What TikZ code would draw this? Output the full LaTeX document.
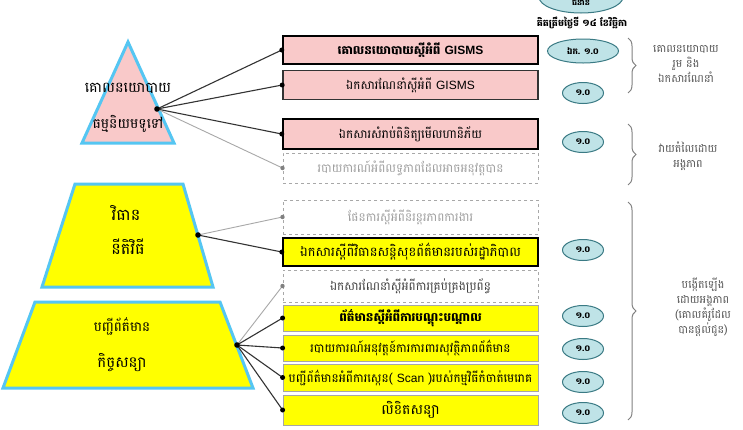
\documentclass[tikz,border=0pt]{standalone}
\usepackage{fontspec}
\newfontfamily\kh[Script=Khmer]{Battambang}
\newfontfamily\lat{Liberation Sans}
\usetikzlibrary{decorations.pathreplacing,shapes.geometric}
\definecolor{pinkfill}{HTML}{F9C9C9}
\definecolor{yel}{HTML}{FFFF00}
\definecolor{skyb}{HTML}{55C6F2}
\definecolor{ellfill}{HTML}{BFE3E7}
\definecolor{elldraw}{HTML}{3A7A84}
\definecolor{lgray}{HTML}{A8A8A8}
\definecolor{dgray}{HTML}{555555}
\begin{document}
\begin{tikzpicture}[x=1pt,y=-1pt,font=\kh\fontsize{12}{14}\selectfont,
  box/.style={minimum width=255pt,inner sep=0pt,anchor=center},
  pinkbox/.style={box,draw=black,fill=pinkfill,line width=2.4pt},
  pinkthin/.style={box,draw=black!80,fill=pinkfill,line width=1.6pt},
  dashbox/.style={box,draw=lgray,dashed,line width=1pt,text=gray!75,fill=white},
  yelbold/.style={box,draw=black,fill=yel,line width=2.4pt},
  yelbox/.style={box,draw=gray!70,fill=yel,line width=0.8pt},
  pyr/.style={draw=skyb,line width=3pt,line join=miter},
  darkline/.style={draw=black!80,line width=1.1pt},
  lightline/.style={draw=lgray,line width=0.9pt},
  ver/.style={ellipse,draw=elldraw,fill=ellfill,line width=1pt,inner sep=0pt,
    minimum width=41pt,minimum height=21pt,font=\kh\bfseries\fontsize{8.5}{10}\selectfont},
  brc/.style={decorate,decoration={brace,amplitude=8pt},draw=gray,line width=1pt},
  side/.style={text=dgray,align=center,font=\kh\fontsize{11}{15}\selectfont},
  pyrtext/.style={font=\kh\fontsize{#1}{16}\selectfont}]
\useasboundingbox (0,0) rectangle (743,429);
\clip (0,0) rectangle (743,429);
\fill[white] (0,0) rectangle (743,429);
% pyramid
\draw[pyr,fill=pinkfill] (128,42) -- (174,143) -- (82,143) -- cycle;
\draw[pyr,fill=yel] (75,184) -- (183,184) -- (213,287) -- (42,287) -- cycle;
\draw[pyr,fill=yel] (35,302) -- (220,302) -- (253,388) -- (3,388) -- cycle;
\node[pyrtext=14.5] (t1a) at (128,88) {គោលនយោបាយ};
\node[pyrtext=14] (t1b) at (128,124) {ធម្មនិយមទូទៅ};
\node[pyrtext=16] (t2a) at (126,213) {វិធាន};
\node[pyrtext=16] (t2b) at (128,247) {នីតិវិធី};
\node[pyrtext=13.5] (t3a) at (122,326) {បញ្ជីព័ត៌មាន};
\node[pyrtext=15] (t3b) at (122,363) {កិច្ចសន្យា};
\coordinate (p1) at (157,109);
\coordinate (p2) at (198,235);
\coordinate (p3) at (237,345);
% boxes
\node[pinkbox,minimum height=28pt] (b1) at (410.5,50) {\bfseries គោលនយោបាយស្តីអំពី {\lat GISMS}};
\node[pinkthin,minimum height=29pt] (b2) at (410.5,85) {ឯកសារណែនាំស្តីអំពី {\lat GISMS}};
\node[pinkbox,minimum height=30pt] (b3) at (410.5,134) {ឯកសារសំរាប់ពិនិត្យមើលហានិភ័យ};
\node[dashbox,minimum height=30pt] (b4) at (410.5,168) {របាយការណ៍អំពីលទ្ធភាពដែលអាចអនុវត្តបាន};
\node[dashbox,minimum height=34pt] (b5) at (410.5,217) {ផែនការស្តីអំពីនិរន្តរភាពការងារ};
\node[yelbold,minimum height=28pt,font=\kh\fontsize{13}{15}\selectfont] (b6) at (410.5,252) {ឯកសារស្តីពីវិធានសន្តិសុខព័ត៌មានរបស់រដ្ឋាភិបាល};
\node[dashbox,minimum height=32pt,text=black!75] (b7) at (410.5,286) {ឯកសារណែនាំស្តីអំពីការគ្រប់គ្រងប្រព័ន្ធ};
\node[yelbox,minimum height=26pt] (b8) at (410.5,318) {\bfseries ព័ត៌មានស្តីអំពីការបណ្តុះបណ្តាល};
\node[yelbox,minimum height=26pt] (b9) at (410.5,348) {របាយការណ៍អនុវត្តន៍ការការពារសុវត្ថិភាពព័ត៌មាន};
\node[yelbox,minimum height=27pt] (b10) at (410.5,377.5) {បញ្ជីព័ត៌មានអំពីការស្កេន( {\lat Scan} )របស់កម្មវិធីកំចាត់មេរោគ};
\node[yelbox,minimum height=30pt,font=\kh\fontsize{14}{16}\selectfont] (b11) at (410.5,410) {លិខិតសន្យា};
% connectors
\draw[darkline] (p1) -- (b1.west);
\draw[darkline] (p1) -- (b2.west);
\draw[darkline] (p1) -- (b3.west);
\draw[lightline] (p1) -- (b4.west);
\draw[lightline] (p2) -- (b5.west);
\draw[darkline] (p2) -- (b6.west);
\draw[lightline] (p3) -- (b7.west);
\draw[darkline] (p3) -- (b8.west);
\draw[darkline] (p3) -- (b9.west);
\draw[darkline] (p3) -- (b10.west);
\draw[darkline] (p3) -- (b11.west);
\foreach \p in {p1,p2,p3} \fill[black] (\p) circle (2.8pt);
\foreach \b in {b1,b2,b3,b6,b8,b9,b10,b11} \fill[black] (\b.west) circle (2.5pt);
\foreach \b in {b4,b5,b7} \fill[gray] (\b.west) circle (2.2pt);
% versions
\node[ver,minimum width=84pt,minimum height=32pt] (v0) at (581,-3) {};
\node[font=\kh\bfseries\fontsize{8}{9}\selectfont] (v0t) at (581,2) {ជំនាន់};
\node[font=\kh\bfseries\fontsize{9.5}{11}\selectfont] (cap) at (582,23) {គិតត្រឹមថ្ងៃទី ១៤ ខែវិច្ឆិកា};
\node[ver,minimum width=71pt,minimum height=24pt] (v1) at (583,51) {ឯក. ១.០};
\node[ver] (v2) at (583,93) {១.០};
\node[ver] (v3) at (583,142) {១.០};
\node[ver] (v4) at (583,250) {១.០};
\node[ver] (v5) at (583,316) {១.០};
\node[ver] (v6) at (583,349) {១.០};
\node[ver] (v7) at (583,382) {១.០};
\node[ver] (v8) at (583,413) {១.០};
% braces
\coordinate (r1a) at (628,38); \coordinate (r1b) at (628,93);
\coordinate (r2a) at (628,124); \coordinate (r2b) at (628,185);
\coordinate (r3a) at (628,202); \coordinate (r3b) at (628,420);
\draw[brc] (r1a) -- (r1b);
\draw[brc] (r2a) -- (r2b);
\draw[brc] (r3a) -- (r3b);
\node[side] (s1) at (686,64) {គោលនយោបាយ\\រួម និង\\ឯកសារណែនាំ};
\node[side] (s2) at (688,156) {វាយតំលៃដោយ\\អង្គភាព};
\node[side] (s3) at (703,307) {បង្កើតឡើង\\ដោយអង្គភាព\\(គោលគំរូដែល\\បានផ្តល់ជូន)};
\end{tikzpicture}
\end{document}
